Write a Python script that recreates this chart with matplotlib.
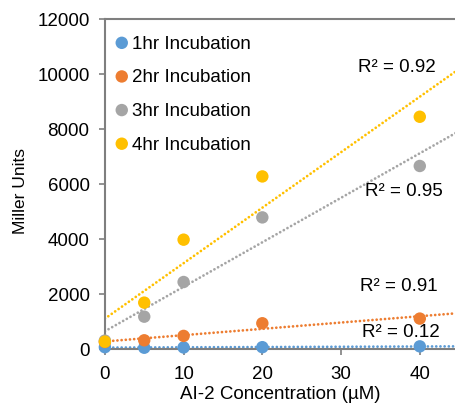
import numpy as np
import matplotlib; matplotlib.use("Agg")
import matplotlib.pyplot as plt

plt.rcParams["font.family"] = ["Liberation Sans", "DejaVu Sans"]

# AI-2 concentration (uM) and Miller units per incubation time
conc = [0, 5, 10, 20, 40]
hr1 = [60, 40, 50, 60, 90]
hr2 = [250, 310, 470, 930, 1100]
hr3 = [300, 1170, 2430, 4780, 6650]
hr4 = [260, 1680, 3970, 6270, 8440]

labels = ["1hr Incubation", "2hr Incubation", "3hr Incubation", "4hr Incubation"]
r2_text = ["R² = 0.12", "R² = 0.91", "R² = 0.95", "R² = 0.92"]
r2_pos = [(32.6, 620), (32.4, 2290), (33.1, 5750), (32.2, 10250)]

colors = ["#5B9BD5", "#ED7D31", "#A5A5A5", "#FFC000"]
XMAX = 44.6
FS = 13.5

fig = plt.figure(figsize=(4.56, 4.14), dpi=100)
ax = fig.add_axes([0.230, 0.155, 0.770, 0.797])

xs = np.array([0, XMAX])
for ys, lab, c, txt, pos in zip([hr1, hr2, hr3, hr4], labels, colors, r2_text, r2_pos):
    slope, icpt = np.polyfit(conc, ys, 1)
    ax.plot(xs, icpt + slope * xs, color=c, lw=2.0, ls=(0, (0.01, 1.5)),
            dash_capstyle="round", zorder=2)
    ax.scatter(conc, ys, s=80, color=c, label=lab, zorder=3, clip_on=False,
               edgecolors="none")
    ax.text(pos[0], pos[1], txt, fontsize=FS, va="center", ha="left")

ax.set_xlim(0, XMAX)
ax.set_ylim(0, 12000)
ax.set_xticks([0, 10, 20, 30, 40])
ax.set_yticks(range(0, 12001, 2000))
ax.tick_params(labelsize=FS, length=4, width=1.2, color="#7f7f7f")
ax.tick_params(axis="x", pad=8)
ax.tick_params(axis="y", pad=7)
for side in ["left", "bottom", "top"]:
    ax.spines[side].set_color("#7f7f7f")
    ax.spines[side].set_linewidth(1.5)
ax.spines["right"].set_visible(False)

ax.set_xlabel("AI-2 Concentration (µM)", fontsize=FS, labelpad=2)
ax.set_ylabel("Miller Units", fontsize=12.5)
ax.yaxis.set_label_coords(-0.22, 0.48)

ax.legend(loc="upper left", frameon=False, fontsize=FS, handletextpad=0.05,
          handlelength=1.0, labelspacing=0.88, borderaxespad=0.0,
          bbox_to_anchor=(0.0, 0.975))

fig.savefig("out.png", dpi=100)
